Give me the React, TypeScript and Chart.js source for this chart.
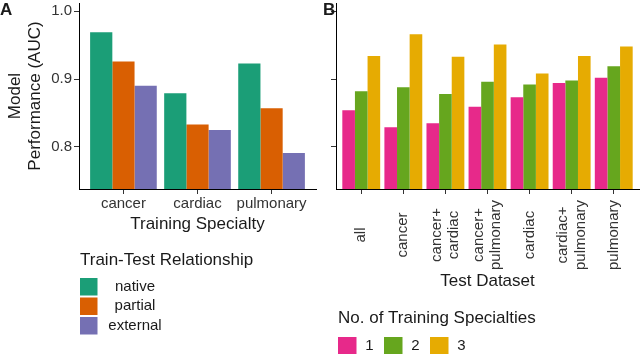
import { useEffect, useRef } from 'react';
import { Chart, registerables } from 'chart.js';
Chart.register(...registerables);

const FONT = '"Liberation Sans", Arial, Helvetica, sans-serif';

// Panel A data
const SPECIALTIES = ['cancer', 'cardiac', 'pulmonary'];
const RELATIONSHIPS = ['native', 'partial', 'external'];
const REL_COLORS = ['#1B9E77', '#D95F02', '#7570B3'];
const NATIVE = [0.969, 0.879, 0.923];
const PARTIAL = [0.926, 0.833, 0.857];
const EXTERNAL = [0.890, 0.825, 0.791];

// Panel B data
const TEST_SETS = [['all'], ['cancer'], ['cancer+', 'cardiac'], ['cancer+', 'pulmonary'], ['cardiac'], ['cardiac+', 'pulmonary'], ['pulmonary']];
const N_SPECIALTIES = ['1', '2', '3'];
const N_COLORS = ['#E7298A', '#66A61E', '#E6AB02'];
const ONE = [0.854, 0.829, 0.835, 0.859, 0.873, 0.894, 0.902];
const TWO = [0.882, 0.888, 0.878, 0.896, 0.892, 0.898, 0.919];
const THREE = [0.934, 0.966, 0.933, 0.951, 0.908, 0.934, 0.948];

const Y_TICKS = [0.8, 0.9, 1.0];
const Y_MIN = 0.738;
const Y_MAX = 1.012;

const TEXT = '#1a1a1a';
const TICK_TEXT = '#333333';

type LegendCfg = {
  title: string;
  titleX: number;
  titleY: number;
  vertical: boolean;
  boxX: number;
  boxY: number;
  box: number;
  step: number;
  labelCenterOffset: number;
};

function legendPlugin(cfg: LegendCfg, letter: string, letterX: number) {
  return {
    id: 'customLegend',
    afterDraw(chart: any) {
      const ctx = chart.ctx;
      ctx.save();
      ctx.fillStyle = TEXT;
      ctx.font = `bold 17px ${FONT}`;
      ctx.textAlign = 'left';
      ctx.textBaseline = 'middle';
      ctx.fillText(letter, letterX, 10);
      ctx.font = `17px ${FONT}`;
      ctx.fillText(cfg.title, cfg.titleX, cfg.titleY);
      ctx.font = `15px ${FONT}`;
      ctx.textAlign = 'center';
      chart.data.datasets.forEach((ds: any, i: number) => {
        const bx = cfg.vertical ? cfg.boxX : cfg.boxX + i * cfg.step;
        const by = cfg.vertical ? cfg.boxY + i * cfg.step : cfg.boxY;
        ctx.fillStyle = ds.backgroundColor;
        ctx.fillRect(bx, by, cfg.box, cfg.box);
        ctx.fillStyle = TEXT;
        const lx = cfg.vertical ? cfg.labelCenterOffset : bx + cfg.box + cfg.labelCenterOffset;
        ctx.fillText(ds.label, lx, by + cfg.box / 2);
      });
      ctx.restore();
    },
  };
}

const rotatedTicks = {
  id: 'rotatedTicks',
  afterDraw(chart: any) {
    const sc = chart.scales.x;
    const ctx = chart.ctx;
    ctx.save();
    ctx.font = `15px ${FONT}`;
    ctx.fillStyle = TICK_TEXT;
    ctx.textAlign = 'center';
    ctx.textBaseline = 'middle';
    sc.ticks.forEach((_t: any, i: number) => {
      const lines = TEST_SETS[i];
      const x = sc.getPixelForTick(i);
      ctx.save();
      ctx.translate(x, sc.top + 46);
      ctx.rotate(-Math.PI / 2);
      lines.forEach((ln, j) => ctx.fillText(ln, 0, (j - (lines.length - 1) / 2) * 17.5));
      ctx.restore();
    });
    ctx.restore();
  },
};

function yScale(width: number, showLabels: boolean, title: any) {
  return {
    type: 'linear',
    min: Y_MIN,
    max: Y_MAX,
    afterBuildTicks: (s: any) => { s.ticks = Y_TICKS.map((v) => ({ value: v })); },
    afterFit: (s: any) => {
      s.width = width;
      s.paddingTop = 0;
      s.paddingBottom = 0;
    },
    ticks: {
      display: true,
      color: showLabels ? TICK_TEXT : 'rgba(0,0,0,0)',
      font: { family: FONT, size: 15 },
      padding: 2,
      callback: (v: any) => Number(v).toFixed(1),
    },
    grid: { drawOnChartArea: false, drawTicks: true, tickLength: 5, color: '#333333', lineWidth: 1 },
    border: { display: true, color: '#000000', width: 1 },
    title,
  };
}

function xScale(n: number, labels: string[] | null, titleText: string, titlePadBottom: number) {
  return {
    type: 'linear',
    min: -0.6,
    max: n - 1 + 0.6,
    offset: false,
    afterBuildTicks: (s: any) => { s.ticks = Array.from({ length: n }, (_, i) => ({ value: i })); },
    afterFit: (s: any) => {
      s.height = 165;
      s.paddingLeft = 0;
      s.paddingRight = 0;
    },
    ticks: {
      display: labels !== null,
      autoSkip: false,
      maxRotation: 0,
      minRotation: 0,
      color: TICK_TEXT,
      font: { family: FONT, size: 15 },
      padding: 1,
      callback: (_v: any, i: number) => (labels ? labels[i] : ''),
    },
    grid: { offset: false, drawOnChartArea: false, drawTicks: true, tickLength: 5, color: '#333333', lineWidth: 1 },
    border: { display: true, color: '#000000', width: 1 },
    title: {
      display: true,
      text: titleText,
      color: TEXT,
      font: { family: FONT, size: 17 },
      padding: { top: 0, bottom: titlePadBottom },
    },
  };
}

function PanelA() {
  const ref = useRef<HTMLCanvasElement>(null);
  useEffect(() => {
    const series = [NATIVE, PARTIAL, EXTERNAL];
    const chart = new Chart(ref.current as HTMLCanvasElement, {
      type: 'bar',
      data: {
        datasets: RELATIONSHIPS.map((name, k) => ({
          label: name,
          data: series[k].map((y, i) => ({ x: i, y })),
          backgroundColor: REL_COLORS[k],
          borderWidth: 0,
          categoryPercentage: 0.9,
          barPercentage: 1.0,
        })),
      },
      options: {
        animation: false,
        responsive: true,
        maintainAspectRatio: false,
        layout: { padding: { left: 0, right: 4, top: 3, bottom: 0 } },
        plugins: { legend: { display: false }, tooltip: { enabled: false } },
        scales: {
          x: xScale(SPECIALTIES.length, SPECIALTIES, 'Training Specialty', 119.8) as any,
          y: yScale(79, true, {
            display: true,
            text: ['Model', 'Performance (AUC)'],
            color: TEXT,
            font: { family: FONT, size: 17 },
            padding: { top: 5, bottom: 0 },
          }) as any,
        },
      },
      plugins: [legendPlugin({
        title: 'Train-Test Relationship',
        titleX: 80,
        titleY: 260,
        vertical: true,
        boxX: 80,
        boxY: 278,
        box: 17.5,
        step: 19.5,
        labelCenterOffset: 135,
      }, 'A', 0)],
    });
    return () => chart.destroy();
  }, []);
  return (
    <div style={{ position: 'absolute', left: 0, top: 0, width: 320, height: 354 }}>
      <canvas ref={ref} />
    </div>
  );
}

function PanelB() {
  const ref = useRef<HTMLCanvasElement>(null);
  useEffect(() => {
    const series = [ONE, TWO, THREE];
    const chart = new Chart(ref.current as HTMLCanvasElement, {
      type: 'bar',
      data: {
        datasets: N_SPECIALTIES.map((name, k) => ({
          label: name,
          data: series[k].map((y, i) => ({ x: i, y })),
          backgroundColor: N_COLORS[k],
          borderWidth: 0,
          categoryPercentage: 0.9,
          barPercentage: 1.0,
        })),
      },
      options: {
        animation: false,
        responsive: true,
        maintainAspectRatio: false,
        layout: { padding: { left: 0, right: 1, top: 3, bottom: 0 } },
        plugins: { legend: { display: false }, tooltip: { enabled: false } },
        scales: {
          x: xScale(TEST_SETS.length, null, 'Test Dataset', 62.8) as any,
          y: yScale(26, false, { display: false }) as any,
        },
      },
      plugins: [rotatedTicks, legendPlugin({
        title: 'No. of Training Specialties',
        titleX: 28,
        titleY: 318,
        vertical: false,
        boxX: 28,
        boxY: 337,
        box: 18.5,
        step: 46,
        labelCenterOffset: 13,
      }, 'B', 13)],
    });
    return () => chart.destroy();
  }, []);
  return (
    <div style={{ position: 'absolute', left: 310, top: 0, width: 330, height: 354 }}>
      <canvas ref={ref} />
    </div>
  );
}

export default function App() {
  return (
    <div style={{ position: 'absolute', left: 0, top: 0, width: 640, height: 354, background: '#ffffff' }}>
      <PanelA />
      <PanelB />
    </div>
  );
}
